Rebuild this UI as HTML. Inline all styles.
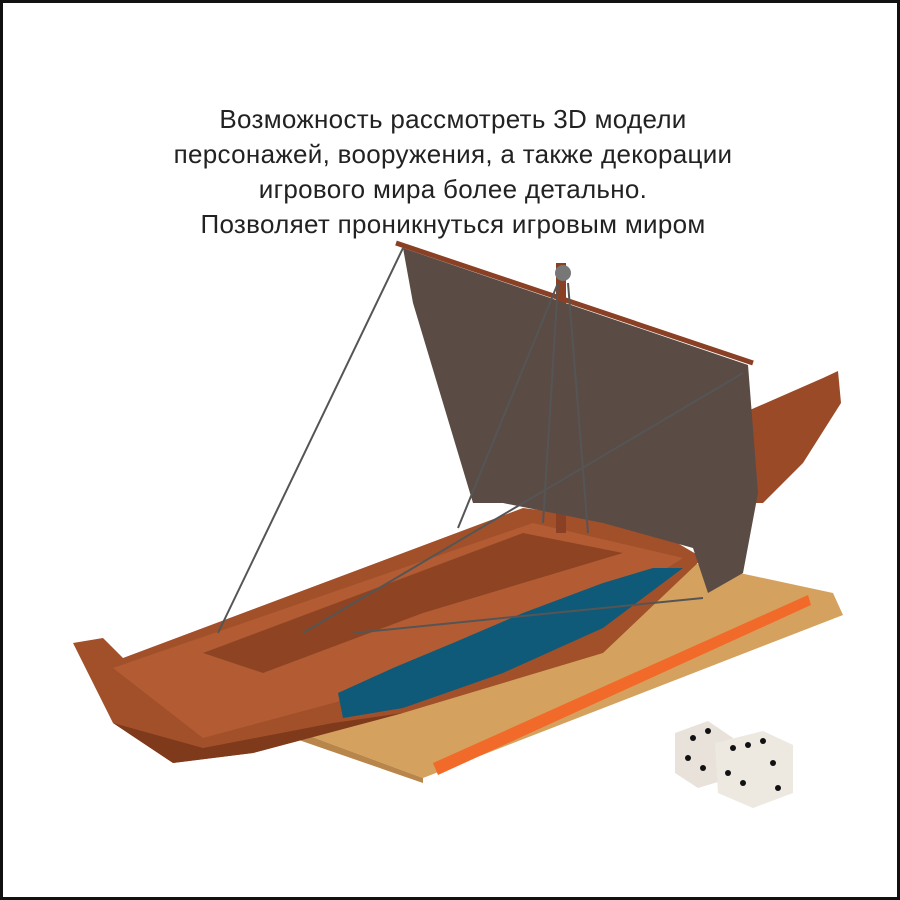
<!DOCTYPE html>
<html><head><meta charset="utf-8"><style>
html,body{margin:0;padding:0;background:#fff}
#frame{position:relative;width:900px;height:900px;box-sizing:border-box;border:3px solid #111;background:#fff;overflow:hidden}
#caption{position:absolute;left:0;top:99px;width:900px;text-align:center;font-family:"Liberation Sans","DejaVu Sans",sans-serif;font-size:26px;line-height:35px;color:#222;letter-spacing:0.3px}
svg{position:absolute;left:0;top:0}
</style></head><body>
<div id="frame">
<svg width="900" height="900" viewBox="0 0 900 900">
  <g>
    <polygon points="285,725 690,560 830,590 840,612 420,775" fill="#d4a25e"/>
    <polygon points="430,760 805,592 808,602 435,772" fill="#f26a2a"/>
    <polygon points="285,725 420,775 420,780 290,735" fill="#b8854a"/>
  </g>
  <g>
    <polygon points="740,410 820,375 835,368 838,400 800,460 760,500 745,500" fill="#9a4a26"/>
    <polygon points="70,640 100,635 120,655 520,505 640,520 700,555 600,650 400,710 250,750 170,760 110,720" fill="#a2502a"/>
    <polygon points="110,665 530,520 680,555 560,630 330,700 200,735" fill="#b35c33"/>
    <polygon points="200,650 520,530 620,550 420,610 260,670" fill="#8e4423"/>
    <polygon points="110,720 170,760 250,750 400,710 330,720 200,745" fill="#7f3a1c"/>
  </g>
  <g>
    <polygon points="335,690 390,665 450,640 520,610 600,580 650,565 680,565 600,625 500,670 400,705 340,715" fill="#0f5a78"/>
  </g>
  <g>
    <rect x="553" y="260" width="10" height="270" fill="#8a4024"/>
    <circle cx="560" cy="270" r="8" fill="#777"/>
  </g>
  <g>
    <polygon points="400,245 745,362 755,490 740,570 705,590 690,545 600,520 500,500 470,500 440,400 410,300" fill="#5a4b45"/>
    <line x1="393" y1="240" x2="750" y2="360" stroke="#8a4024" stroke-width="5"/>
  </g>
  <g stroke="#555" stroke-width="2">
    <line x1="400" y1="245" x2="215" y2="630"/>
    <line x1="555" y1="280" x2="455" y2="525"/>
    <line x1="555" y1="280" x2="540" y2="520"/>
    <line x1="565" y1="280" x2="585" y2="530"/>
    <line x1="740" y1="370" x2="300" y2="630"/>
    <line x1="350" y1="630" x2="700" y2="595"/>
  </g>
  <g>
    <polygon points="672,730 705,718 730,735 728,775 695,785 672,770" fill="#e8e2da"/>
    <polygon points="712,740 760,728 790,742 790,790 750,805 715,790" fill="#ede8e0"/>
    <g fill="#111">
      <circle cx="690" cy="735" r="3"/><circle cx="705" cy="728" r="3"/><circle cx="685" cy="755" r="3"/><circle cx="700" cy="765" r="3"/>
      <circle cx="730" cy="745" r="3"/><circle cx="760" cy="738" r="3"/><circle cx="745" cy="742" r="3"/>
      <circle cx="725" cy="770" r="3"/><circle cx="740" cy="780" r="3"/><circle cx="770" cy="760" r="3"/><circle cx="775" cy="785" r="3"/>
    </g>
  </g>
</svg>
<div id="caption">Возможность рассмотреть 3D модели<br>персонажей, вооружения, а также декорации<br>игрового мира более детально.<br>Позволяет проникнуться игровым миром</div>
</div>
</body></html>
